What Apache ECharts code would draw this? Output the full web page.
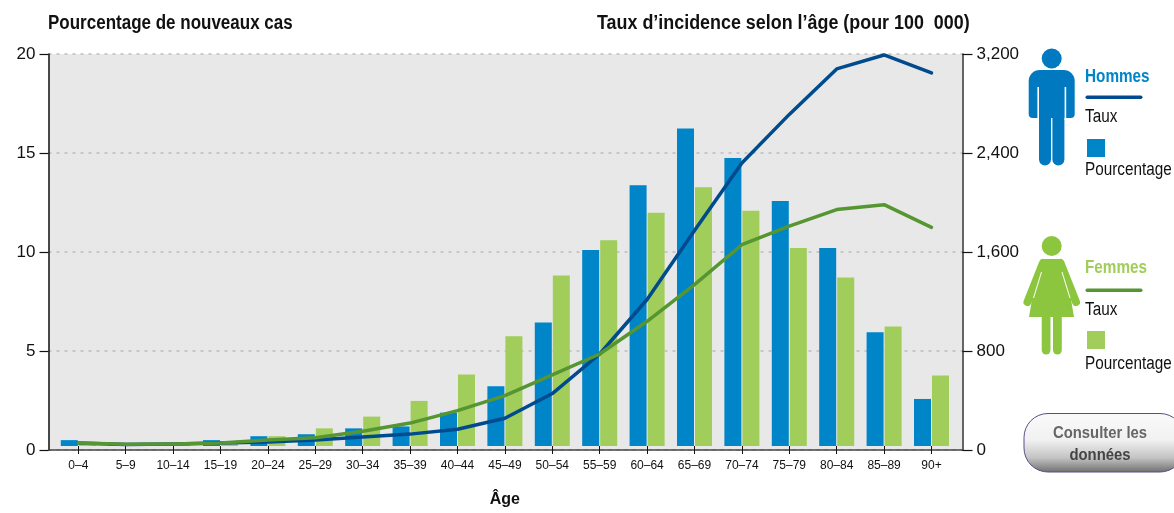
<!DOCTYPE html>
<html><head><meta charset="utf-8">
<style>html,body{margin:0;padding:0;background:#fff}#c{width:1174px;height:513px}</style>
<script src="https://cdn.jsdelivr.net/npm/echarts@6/dist/echarts.min.js"></script>
</head><body><div id="c"></div>
<script>
const ageGroups = ['0–4','5–9','10–14','15–19','20–24','25–29','30–34','35–39','40–44','45–49','50–54','55–59','60–64','65–69','70–74','75–79','80–84','85–89','90+'];
const pctMen   = [0.3,0.1,0.1,0.3,0.5,0.6,0.9,1.0,1.7,3.05,6.3,10.0,13.3,16.2,14.7,12.5,10.1,5.8,2.4];
const pctWomen = [0.1,0.1,0.1,0.2,0.5,0.9,1.5,2.3,3.65,5.6,8.7,10.5,11.9,13.2,12.0,10.1,8.6,6.1,3.6];
const rateMen   = [24,12,16,24,32,48,73,97,137,226,428,751,1196,1760,2311,2707,3078,3192,3046];
const rateWomen = [24,14,16,24,48,67,121,187,289,411,580,751,1018,1317,1643,1795,1930,1970,1785];
const pctTicks = [0,5,10,15,20];
const rateTicks = [0,800,1600,2400,3200];

const FONT = '"Liberation Sans",Arial,sans-serif';
const C = {menBar:'#0085c8', womenBar:'#a1cd5a', menLine:'#004b8d', womenLine:'#559632', menIcon:'#0079c1', womenIcon:'#8cc63f', ink:'#111'};

function txt(x,y,t,size,weight,fill,align,sx){
  return {type:'text',x,y,z:10,scaleX:sx||0.85,style:{text:t,font:`${weight} ${size}px ${FONT}`,fill,textAlign:align||'left',textVerticalAlign:'middle'}};
}
function rect(x,y,w,h,fill,r){
  return {type:'rect',z:10,shape:{x,y,width:w,height:h,r:r||0},style:{fill}};
}
function stroke(points,color,w){
  return {type:'polyline',z:10,shape:{points},style:{stroke:color,lineWidth:w,lineCap:'round',lineJoin:'round',fill:null}};
}
const man = [
  {type:'circle',z:10,shape:{cx:1051.7,cy:58.5,r:10},style:{fill:C.menIcon}},
  rect(1028.7,70,46,48,C.menIcon,[11,11,4,4]),
  {type:'rect',z:11,shape:{x:1037.4,y:87,width:1.6,height:33},style:{fill:'#fff'}},
  {type:'rect',z:11,shape:{x:1064.6,y:87,width:1.6,height:33},style:{fill:'#fff'}},
  rect(1039,87,25.4,30,C.menIcon),
  rect(1039,100,12,65.5,C.menIcon,[0,0,6,6]),
  rect(1052.4,100,12,65.5,C.menIcon,[0,0,6,6])
];
const woman = [
  {type:'circle',z:10,shape:{cx:1051.7,cy:246,r:10},style:{fill:C.womenIcon}},
  stroke([[1043,263],[1027.5,302]],C.womenIcon,8),
  stroke([[1060.5,263],[1076,302]],C.womenIcon,8),
  {type:'polygon',z:11,shape:{points:[[1042,259],[1061,259],[1066,270],[1074,317],[1029,317],[1037,270]]},style:{fill:C.womenIcon}},
  {type:'polygon',z:11,shape:{points:[[1041,272],[1042,272],[1034,298],[1033,298]]},style:{fill:'#fff'}},
  {type:'polygon',z:11,shape:{points:[[1061.5,272],[1062.5,272],[1070.5,298],[1069.5,298]]},style:{fill:'#fff'}},
  rect(1041.7,310,8.8,44.5,C.womenIcon,[0,0,4.4,4.4]),
  rect(1053,310,8.8,44.5,C.womenIcon,[0,0,4.4,4.4])
];
const legendSide = [
  txt(1085,77,'Hommes',18,'bold',C.menBar),
  rect(1085.5,95.5,57,3.5,C.menLine,1.7),
  txt(1085,117,'Taux',18,'normal',C.ink),
  rect(1087,139,18,18,C.menBar),
  txt(1085,170,'Pourcentage',18,'normal',C.ink),
  txt(1085,268,'Femmes',18,'bold',C.womenBar),
  rect(1085.5,288.5,57,3.5,C.womenLine,1.7),
  txt(1085,310,'Taux',18,'normal',C.ink),
  rect(1087,331,18,18,C.womenBar),
  txt(1085,364,'Pourcentage',18,'normal',C.ink)
];
const button = [
  {type:'rect',z:10,shape:{x:1024,y:413.5,width:160,height:58.5,r:24},
   style:{stroke:'#5d4c85',lineWidth:1,fill:{type:'linear',x:0,y:0,x2:0,y2:1,colorStops:[
     {offset:0,color:'#fafafa'},{offset:0.45,color:'#f1f1f1'},{offset:0.75,color:'#c4c4c4'},{offset:1,color:'#6f6f6f'}]}}},
  txt(1100,433,'Consulter les',16.5,'bold','#666','center',0.9),
  txt(1100,455,'données',16.5,'bold','#444','center',0.9)
];
const headings = [
  txt(48,23,'Pourcentage de nouveaux cas',20,'bold',C.ink,'left',0.85),
  txt(597,23,'Taux d’incidence selon l’âge (pour 100  000)',20,'bold',C.ink,'left',0.895)
];

const option = {
  animation:false,
  textStyle:{fontFamily:FONT},
  grid:[
    {left:48.5,top:54,width:914,height:396,show:true,backgroundColor:'#e8e8e8',borderWidth:0},
    {left:54.6,top:54,width:900.6,height:396}
  ],
  xAxis:[
    {gridIndex:0,type:'value',min:0,max:1,axisLabel:{show:false},axisTick:{show:false},splitLine:{show:false},
     axisLine:{show:true,lineStyle:{color:'#444',width:1.5}}},
    {gridIndex:1,type:'category',data:ageGroups,
     axisLine:{show:false},
     axisTick:{show:true,alignWithLabel:true,length:8,lineStyle:{color:'#111',width:1}},
     axisLabel:{color:C.ink,fontSize:12,margin:14,fontFamily:FONT,interval:0},
     name:'Âge',nameLocation:'middle',nameGap:46,
     nameTextStyle:{color:C.ink,fontSize:16,fontWeight:'bold',fontFamily:FONT}}
  ],
  yAxis:[
    {gridIndex:0,type:'value',position:'left',min:0,max:20,interval:5,
     axisLine:{show:true,lineStyle:{color:'#111',width:1.5}},
     axisTick:{show:true,length:9,lineStyle:{color:'#111',width:1.2}},
     axisLabel:{color:C.ink,fontSize:17,margin:13,fontFamily:FONT,
       formatter:v=>pctTicks.includes(v)?String(v):''},
     splitLine:{show:true,lineStyle:{color:'#bcbcbc',type:[3,5],width:1.5}}},
    {gridIndex:0,type:'value',position:'right',min:0,max:3200,interval:800,
     axisLine:{show:true,lineStyle:{color:'#333',width:1.5}},
     axisTick:{show:true,length:10,lineStyle:{color:'#111',width:1.2}},
     axisLabel:{color:C.ink,fontSize:17,margin:14,fontFamily:FONT,
       formatter:v=>rateTicks.includes(v)?v.toLocaleString('en-US'):''},
     splitLine:{show:false}},
    {gridIndex:1,type:'value',min:0,max:20,show:false},
    {gridIndex:1,type:'value',min:0,max:3200,show:false}
  ],
  series:[
    {name:'Hommes – Pourcentage',type:'bar',xAxisIndex:1,yAxisIndex:2,data:pctMen,barWidth:17,barGap:'6%',itemStyle:{color:C.menBar},z:2},
    {name:'Femmes – Pourcentage',type:'bar',xAxisIndex:1,yAxisIndex:2,data:pctWomen,barWidth:17,barGap:'6%',itemStyle:{color:C.womenBar},z:2},
    {name:'Hommes – Taux',type:'line',xAxisIndex:1,yAxisIndex:3,data:rateMen,showSymbol:false,lineStyle:{color:C.menLine,width:3.5,cap:'round',join:'round'},z:3},
    {name:'Femmes – Taux',type:'line',xAxisIndex:1,yAxisIndex:3,data:rateWomen,showSymbol:false,lineStyle:{color:C.womenLine,width:3.5,cap:'round',join:'round'},z:4}
  ],
  graphic:{elements:[...headings,...man,...woman,...legendSide,...button]}
};
const chart = echarts.init(document.getElementById('c'),null,{renderer:'canvas'});
chart.setOption(option);
</script></body></html>
